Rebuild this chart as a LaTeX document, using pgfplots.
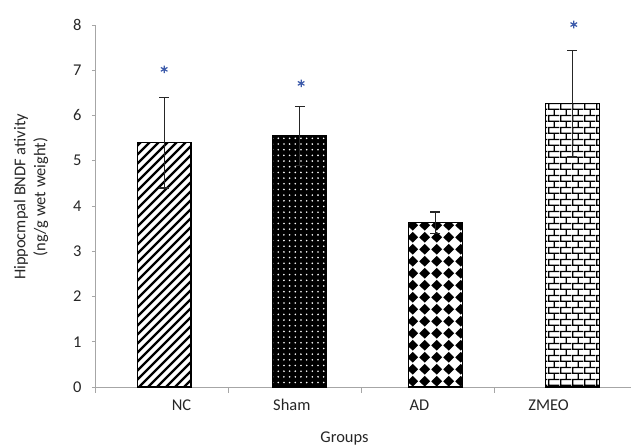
\documentclass[border=0pt]{standalone}
\usepackage{fontspec}
\setmainfont{Carlito}
\usepackage{pgfplots}
\pgfplotsset{compat=1.18}
\usetikzlibrary{patterns,patterns.meta}

\pgfdeclarepatternformonly{diamondchk}{\pgfqpoint{0pt}{0pt}}{\pgfqpoint{11.7pt}{11.7pt}}{\pgfqpoint{11.7pt}{11.7pt}}{%
  \pgfpathmoveto{\pgfqpoint{5.85pt}{0.3pt}}%
  \pgfpathlineto{\pgfqpoint{11.4pt}{5.85pt}}%
  \pgfpathlineto{\pgfqpoint{5.85pt}{11.4pt}}%
  \pgfpathlineto{\pgfqpoint{0.3pt}{5.85pt}}%
  \pgfpathclose\pgfusepath{fill}}

\pgfdeclarepatternformonly{mybricks}{\pgfqpoint{0pt}{0pt}}{\pgfqpoint{11.7pt}{12pt}}{\pgfqpoint{11.7pt}{12pt}}{%
  \pgfsetlinewidth{1.3pt}%
  \pgfpathmoveto{\pgfqpoint{0pt}{0.65pt}}\pgfpathlineto{\pgfqpoint{11.7pt}{0.65pt}}%
  \pgfpathmoveto{\pgfqpoint{0pt}{6.65pt}}\pgfpathlineto{\pgfqpoint{11.7pt}{6.65pt}}%
  \pgfpathmoveto{\pgfqpoint{0.65pt}{0pt}}\pgfpathlineto{\pgfqpoint{0.65pt}{6.65pt}}%
  \pgfpathmoveto{\pgfqpoint{6.5pt}{6.65pt}}\pgfpathlineto{\pgfqpoint{6.5pt}{12pt}}%
  \pgfusepath{stroke}}

\pgfdeclarepatternformonly{thickne}{\pgfqpoint{0pt}{0pt}}{\pgfqpoint{9pt}{9pt}}{\pgfqpoint{9pt}{9pt}}{%
  \pgfsetlinewidth{2.4pt}%
  \pgfpathmoveto{\pgfqpoint{-1pt}{-1pt}}\pgfpathlineto{\pgfqpoint{10pt}{10pt}}%
  \pgfpathmoveto{\pgfqpoint{-1pt}{8pt}}\pgfpathlineto{\pgfqpoint{1pt}{10pt}}%
  \pgfpathmoveto{\pgfqpoint{8pt}{-1pt}}\pgfpathlineto{\pgfqpoint{10pt}{1pt}}%
  \pgfusepath{stroke}}

\definecolor{stary}{RGB}{60,90,170}

\pgfplotsset{
  mybar/.style={ybar, bar width=0.405, bar shift=0pt, draw=black, line width=1.2bp,
    error bars/y dir=both, error bars/y explicit,
    error bars/error bar style={line width=1.3bp, black!85, solid},
    error bars/error mark options={rotate=90, line width=1.3bp, mark size=5bp, black!85, solid}},
}

\begin{document}
\begin{tikzpicture}
\begin{axis}[
  name=ax,
  scale only axis,
  width=536bp, height=362bp,
  xmin=0, xmax=4.03,
  ymin=0, ymax=8,
  axis lines*=left,
  axis line style={gray!70, line width=0.8bp},
  tick align=outside,
  ytick={0,1,...,8},
  ytick pos=left,
  xtick pos=bottom,
  xtick={0.65,1.48,2.44,3.41},
  xticklabels={NC,Sham,AD,ZMEO},
  minor xtick={0,1,2,3},
  major tick length=3bp,
  minor tick length=6bp,
  major x tick style={draw=none},
  minor x tick style={gray!70, line width=0.8bp},
  ytick style={gray!70, line width=0.8bp},
  ticklabel style={font=\fontsize{16.5}{19}\selectfont, text=black!85},
  /pgf/number format/assume math mode=true,
  yticklabel style={xshift=-7bp},
  xticklabel style={yshift=-6bp},
  ylabel={Hippocmpal BNDF ativity\\(ng/g wet weight)},
  ylabel style={font=\fontsize{16.5}{20}\selectfont, text=black!85, align=center, at={(rel axis cs:0,0.525)}, anchor=center, yshift=64bp},
  xlabel={Groups},
  xlabel style={font=\fontsize{16.5}{19}\selectfont, text=black!85, at={(rel axis cs:0.4655,0)}, anchor=center, yshift=-51bp},
  clip=false,
]
\addplot[mybar, pattern=thickne]
  coordinates {(0.52,5.4) +- (0,1.0)};
\addplot[mybar, fill=black,
  postaction={pattern={Dots[distance=5.7pt, radius=0.9pt]}, pattern color=white}]
  coordinates {(1.54,5.55) +- (0,0.65)};
\addplot[mybar, pattern=diamondchk]
  coordinates {(2.56,3.63) +- (0,0.24)};
\addplot[mybar, pattern=mybricks]
  coordinates {(3.59,6.26) +- (0,1.18)};
\addplot[only marks, mark=asterisk, mark size=3.8bp, color=stary, line width=1.2bp]
  coordinates {(0.52,7.02) (1.55,6.71) (3.6,8.01)};
\end{axis}
\pgfresetboundingbox
\path[use as bounding box] ([xshift=-95bp,yshift=-58bp]ax.south west) rectangle ([xshift=2bp,yshift=25bp]ax.north east);
\end{tikzpicture}
\end{document}
